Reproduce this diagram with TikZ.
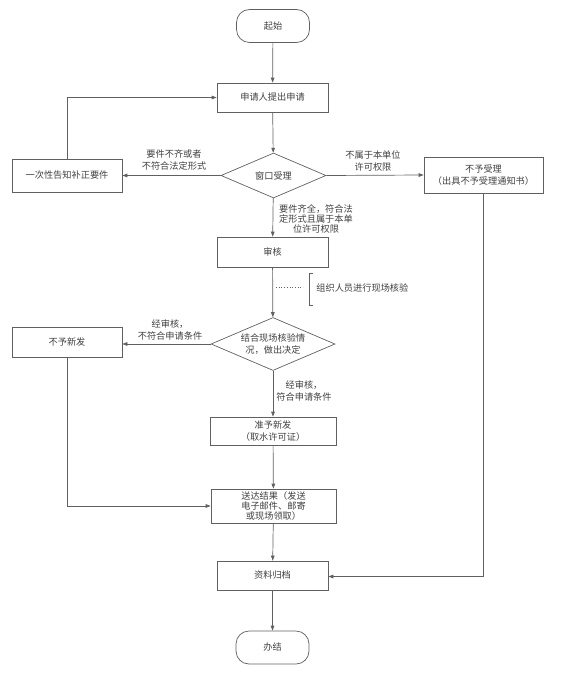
\documentclass[tikz,border=0pt]{standalone}
\usepackage{fontspec}
\setmainfont{Noto Sans CJK SC}
\usetikzlibrary{shapes.geometric,arrows.meta,calc}
\definecolor{linegray}{HTML}{606060}
\definecolor{textgray}{HTML}{404040}
\tikzset{
  every path/.style={line width=0.7pt},
  flowbox/.style={draw=linegray,rectangle,inner sep=0pt,align=center,text=textgray},
  termbox/.style={flowbox,rounded corners=13pt},
  decide/.style={draw=linegray,diamond,inner sep=0pt,aspect=2.3,align=center,text=textgray},
  flowarrow/.style={draw=linegray,-{Triangle[length=5pt,width=3.6pt]}},
  flowlabel/.style={align=center,text=textgray,inner sep=0pt}
}

\begin{document}
\begin{tikzpicture}[x=1pt,y=-1pt,font=\fontsize{9.2}{11.5}\selectfont]
    \useasboundingbox (0,0) rectangle (574,682); % keeps the page size

    % main column
    \node[termbox,minimum width=73pt,minimum height=33pt] (start) at (273,26) {起始};
    \node[flowbox,minimum width=111pt,minimum height=29pt] (apply) at (272.5,97.5) {申请人提出申请};
    \node[decide,minimum width=105pt,minimum height=45pt] (window) at (273.5,175.5) {窗口受理};
    \node[flowbox,minimum width=111pt,minimum height=30pt] (review) at (272.5,252) {审核};
    \node[decide,minimum width=124pt,minimum height=53pt] (judge) at (273,344) {结合现场核验情\\况，做出决定};
    \node[flowbox,minimum width=126pt,minimum height=28pt] (grant) at (273,431) {准予新发\\（取水许可证）};
    \node[flowbox,minimum width=125pt,minimum height=34pt,font=\fontsize{9.2}{10.2}\selectfont] (deliver) at (273.5,506) {送达结果（发送\\电子邮件、邮寄\\或现场领取）};
    \node[flowbox,minimum width=111pt,minimum height=29pt] (archive) at (272.5,575.5) {资料归档};
    \node[termbox,minimum width=73pt,minimum height=33pt] (finish) at (272.5,647.5) {办结};

    % side boxes
    \node[flowbox,minimum width=110pt,minimum height=33pt] (notify) at (67,175.5) {一次性告知补正要件};
    \node[flowbox,minimum width=119pt,minimum height=36pt] (reject) at (483.5,175) {不予受理\\（出具不予受理通知书）};
    \node[flowbox,minimum width=110pt,minimum height=30pt] (deny) at (67,342) {不予新发};

    % arrows
    \draw[flowarrow] (start) -- (apply);
    \draw[flowarrow] (apply) -- (window);
    \draw[flowarrow] (window) -- (review);
    \draw[flowarrow] (review) -- (judge);
    \draw[flowarrow] (judge) -- (grant);
    \draw[flowarrow] (grant) -- (deliver);
    \draw[flowarrow] (deliver) -- (archive);
    \draw[flowarrow] (archive) -- (finish);
    \draw[flowarrow] (window.west) -- (notify.east);
    \draw[flowarrow] (window.east) -- (reject.west);
    \draw[flowarrow] (judge.west) -- (deny.east |- judge.west);
    \draw[flowarrow] (notify.north) |- (apply.west);
    \draw[flowarrow] (reject.south) |- ($(archive.east)+(0,1)$);
    \draw[flowarrow] (deny.south) |- (deliver.west);

    % labels on the arrows
    \node[flowlabel] (lblmissing) at (174,160) {要件不齐或者\\不符合法定形式};
    \node[flowlabel] (lbloutside) at (373,161) {不属于本单位\\许可权限};
    \node[flowlabel,font=\fontsize{9.2}{10.2}\selectfont] (lblcomplete) at (316,219) {要件齐全，符合法\\定形式且属于本单\\位许可权限};
    \node[flowlabel] (lblfail) at (170,330) {经审核，\\不符合申请条件};
    \node[flowlabel] (lblpass) at (304,391) {经审核，\\符合申请条件};

    % site check note
    \node[flowlabel,anchor=west] (note) at (316,288) {组织人员进行现场核验};
    \draw[linegray,dotted] (276,287) -- (303,287);
    \draw[linegray] (313,273) -- (309,273) -- (309,305) -- (313,305);
\end{tikzpicture}
\end{document}
